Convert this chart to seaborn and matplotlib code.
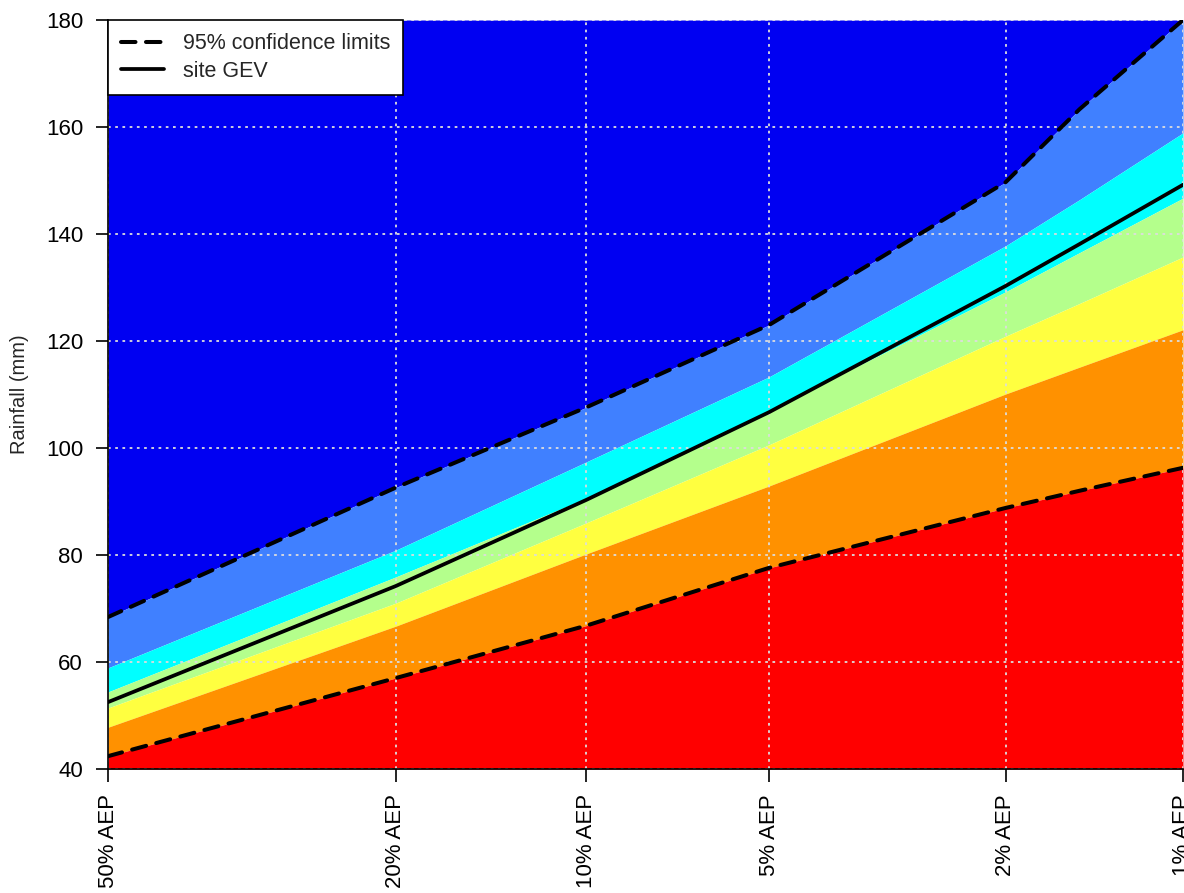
import numpy as np
import pandas as pd
import matplotlib
matplotlib.use("Agg")
import matplotlib.pyplot as plt
import seaborn as sns

# ---- data ----
aep_pct = [50, 20, 10, 5, 2, 1.5, 1]
tick_aep = [50, 20, 10, 5, 2, 1]
tick_labels = ["50% AEP", "20% AEP", "10% AEP", "5% AEP", "2% AEP", "1% AEP"]

upper_ci = [68.4, 92.6, 107.6, 123.0, 149.7, 163.3, 180.0]
lightblue_cyan = [58.9, 80.9, 97.4, 113.3, 137.8, 146.4, 158.9]
cyan_green = [54.4, 75.9, 90.6, 107.0, 129.2, 136.5, 146.7]
site_gev = [52.5, 74.2, 90.3, 106.7, 130.3, 138.1, 149.2]
green_yellow = [51.4, 71.0, 86.0, 100.6, 120.9, 127.0, 135.7]
yellow_orange = [47.8, 66.7, 80.2, 92.9, 110.1, 115.1, 122.1]
lower_ci = [42.4, 57.0, 66.8, 77.6, 88.8, 92.0, 96.3]

y_min, y_max = 40, 180
y_ticks = [40, 60, 80, 100, 120, 140, 160, 180]

band_colors = {
    "top": "#0000F2",
    "lightblue": "#4080FF",
    "cyan": "#00FFFF",
    "green": "#B4FF8C",
    "yellow": "#FFFF40",
    "orange": "#FF9100",
    "red": "#FF0000",
}


def gumbel(p_pct):
    p = np.asarray(p_pct, dtype=float) / 100.0
    return -np.log(-np.log(1.0 - p))


x = gumbel(aep_pct)
df = pd.DataFrame({"x": x, "upper": upper_ci, "gev": site_gev, "lower": lower_ci})

sns.set_style("white")
plt.rcParams["font.family"] = ["Liberation Sans", "DejaVu Sans"]

fig = plt.figure(figsize=(11.84, 8.93), dpi=100)
ax = fig.add_axes([108 / 1184, 1 - 769 / 893, (1183 - 108) / 1184, (769 - 20) / 893])

top = np.full_like(x, y_max)
bottom = np.full_like(x, y_min)
layers = [
    (upper_ci, top, band_colors["top"]),
    (lightblue_cyan, upper_ci, band_colors["lightblue"]),
    (cyan_green, lightblue_cyan, band_colors["cyan"]),
    (green_yellow, cyan_green, band_colors["green"]),
    (yellow_orange, green_yellow, band_colors["yellow"]),
    (lower_ci, yellow_orange, band_colors["orange"]),
    (bottom, lower_ci, band_colors["red"]),
]
for lo, hi, c in layers:
    ax.fill_between(x, lo, hi, color=c, linewidth=0, zorder=1)

dash = (0, (3.6, 2.6))
sns.lineplot(data=df, x="x", y="upper", ax=ax, color="black", lw=2.9,
             zorder=4, label="95% confidence limits")
sns.lineplot(data=df, x="x", y="lower", ax=ax, color="black", lw=2.9,
             zorder=4, label="_nolegend_")
sns.lineplot(data=df, x="x", y="gev", ax=ax, color="black", lw=2.7,
             zorder=4, label="site GEV")
for ln in ax.get_lines()[:2]:
    ln.set_linestyle(dash)
    ln.set_dash_capstyle("round")

ax.set_xlim(gumbel(50), gumbel(1))
ax.set_ylim(y_min, y_max)
ax.set_xticks(gumbel(tick_aep))
ax.set_xticklabels(tick_labels, rotation=90, fontsize=16)
ax.set_yticks(y_ticks)
ax.set_yticklabels([str(v) for v in y_ticks], fontsize=16)
ax.set_xlabel("")
ax.set_ylabel("Rainfall (mm)", fontsize=14.5, labelpad=12)

ax.set_axisbelow(False)
ax.grid(True, color="#DDDDDD", linestyle=(0, (1.5, 2.5)), linewidth=1.3, zorder=2)
for s in ["top", "right"]:
    ax.spines[s].set_visible(False)
for s in ["left", "bottom"]:
    ax.spines[s].set_color("black")
    ax.spines[s].set_linewidth(1.2)
    ax.spines[s].set_zorder(5)
ax.tick_params(axis="both", direction="out", length=9, width=1.2, color="black",
               labelcolor="black", left=True, bottom=True, pad=9)

leg = ax.legend(loc="upper left", bbox_to_anchor=(0, 1), borderaxespad=0,
                fancybox=False, framealpha=1, edgecolor="black", fontsize=15.5,
                handlelength=2.0, handletextpad=0.85, borderpad=0.62,
                labelspacing=0.3)
leg.get_frame().set_linewidth(1.2)
leg.set_zorder(10)

fig.savefig("out.png", dpi=100)
